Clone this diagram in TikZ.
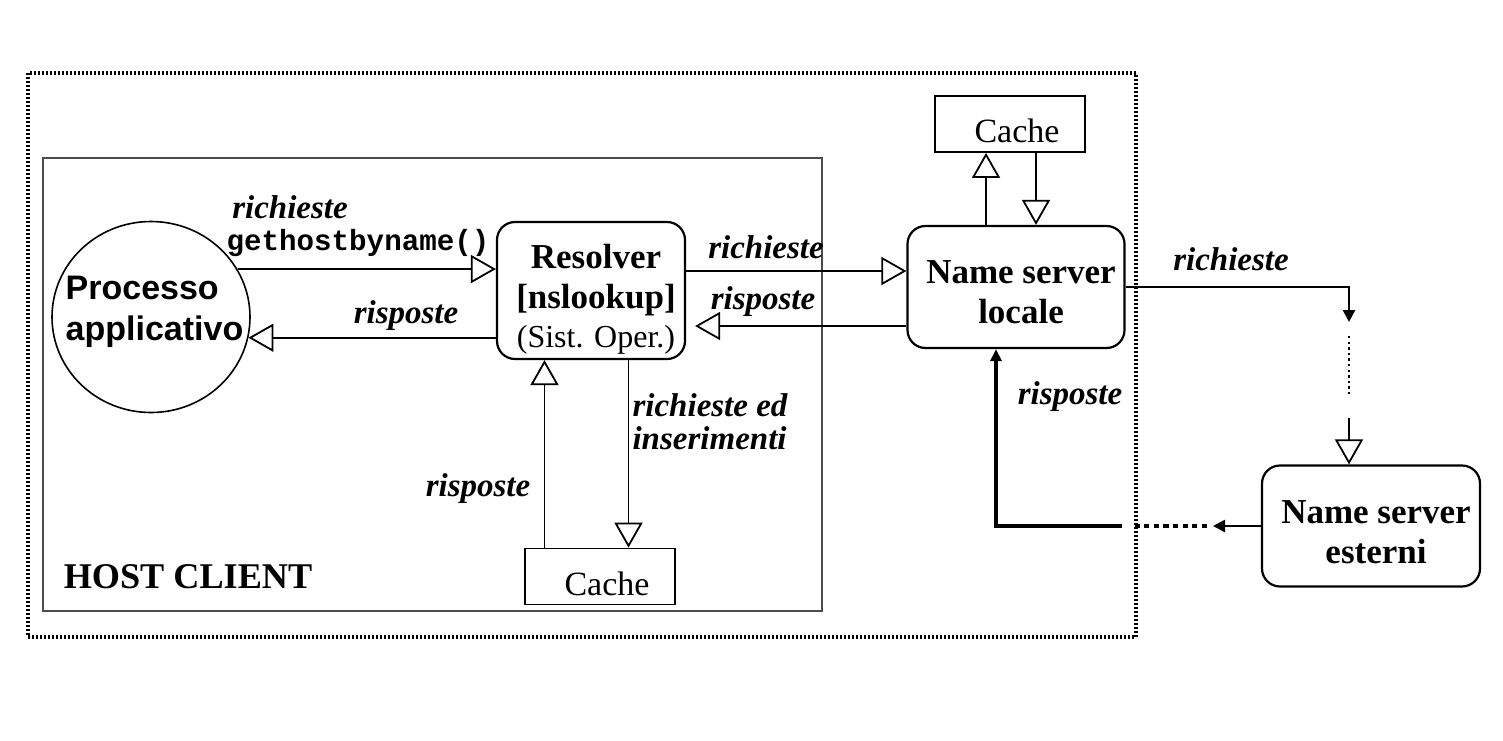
\documentclass[tikz,border=0pt]{standalone}
\usepackage{fontspec}
\setmainfont{Liberation Serif}
\setmonofont{Liberation Mono}
\newfontfamily\arialfont{Liberation Sans}
\usetikzlibrary{calc,positioning,arrows.meta,shapes.geometric}
\tikzset{
  nsbox/.style={rectangle, draw=black, line width=1.1pt, rounded corners=9pt, inner sep=0pt},
  boxtext/.style={align=center, inner sep=0pt, xshift=2.5pt, font=\fontsize{17.5}{20}\selectfont\bfseries},
  cachebox/.style={rectangle, draw=black, line width=0.9pt, minimum width=75pt, minimum height=28pt, inner sep=0pt},
  cachetext/.style={inner sep=0pt, xshift=3.5pt, yshift=-3.5pt, font=\fontsize{17}{20}\selectfont},
  procnode/.style={ellipse, draw=black, line width=0.8pt, minimum width=99pt, minimum height=95.5pt, inner sep=0pt},
  proctext/.style={align=left, font=\arialfont\fontsize{17}{20.5}\selectfont\bfseries},
  lbl/.style={align=left, inner sep=0pt, font=\fontsize{16.5}{16.5}\selectfont\bfseries\itshape},
  line/.style={draw, line width=0.9pt, -{Triangle[open,length=12.5pt,width=14pt]}},
  rqline/.style={draw, line width=1.3pt, -{Triangle[length=6pt,width=6pt]}},
  rsline/.style={draw, line width=1.8pt, -{Triangle[length=6pt,width=5.5pt]}},
  dotline/.style={draw, line width=1.2pt, dash pattern=on 1.2pt off 1.6pt},
  bigdotline/.style={draw, line width=1.8pt, dash pattern=on 2.6pt off 2.2pt},
  framebox/.style={draw, line width=1.8pt, dash pattern=on 1pt off 1pt},
  hostbox/.style={draw=black!70, line width=0.7pt},
}

\begin{document}
\begin{tikzpicture}[x=0.5pt,y=-0.5pt]
    \useasboundingbox (0,0) rectangle (1503,740);

    % boxes
    \draw[framebox] (28,73) rectangle (1136,637);
    \draw[hostbox] (43,158) rectangle (822,611);

    \node[procnode, label={[proctext,xshift=1.75pt,yshift=2.5pt]center:Processo\\applicativo}] (proc) at (151,317) {};
    \node[nsbox, minimum width=94pt, minimum height=68.5pt,
      label={[boxtext,yshift=-4.5pt,font=\fontsize{17.5}{19.75}\selectfont\bfseries]center:Resolver\\{[nslookup]}\\{\mdseries\fontsize{16}{20}\selectfont (Sist. Oper.)}}] (res) at (591,290.5) {};
    \node[nsbox, minimum width=108.5pt, minimum height=61pt,
      label={[boxtext,yshift=-2.75pt]center:Name server\\locale}] (nsl) at (1016,287) {};
    \node[nsbox, minimum width=109pt, minimum height=60.5pt,
      label={[boxtext,yshift=-3.25pt]center:Name server\\esterni}] (nse) at (1371,526) {};
    \node[cachebox, label={[cachetext]center:Cache}] (cachens) at (1010,124) {};
    \node[cachebox, label={[cachetext]center:Cache}] (cacheres) at (600,576.5) {};

    \node[font=\fontsize{18.1}{20}\selectfont\bfseries] (host) at (188,577) {HOST CLIENT};

    % labels
    \node[lbl] (rqproc) at (290,207) {richieste};
    \node[font=\ttfamily\bfseries\fontsize{14.6}{16}\selectfont, inner sep=0pt] (gethost) at (358,243) {gethostbyname()};
    \node[lbl] (rsproc) at (406,316) {risposte};
    \node[lbl] (rqres) at (766,247) {richieste};
    \node[lbl] (rsres) at (763,302) {risposte};
    \node[lbl] (rqext) at (1231,259) {richieste};
    \node[lbl] (rsext) at (1070,397) {risposte};
    \node[lbl] (insert) at (710,422) {richieste ed\\inserimenti};
    \node[lbl] (rscache) at (478,489) {risposte};

    % points of the external path
    \coordinate (rq1) at (1349,322);
    \coordinate (rq2) at (1349,336);
    \coordinate (rq3) at (1349,395);
    \coordinate (rq4) at (1349,418);
    \coordinate (rs1) at (1213,526);
    \coordinate (rs2) at (1207,526);
    \coordinate (rs3) at (1133,526);
    \coordinate (rs4) at (1122,526);

    \begin{scope} [every path/.style=line]
      \path (proc.29) -- (proc.29 -| res.west);
      \path (proc.-12 -| res.west) -- (proc.-12);

      \path ([yshift=9.75pt]res.east) -- ([yshift=9.75pt]res.east -| nsl.west);
      \path[shorten >=4.5pt] ([yshift=-17.75pt]res.east -| nsl.west) -- ([yshift=-17.75pt]res.east);

      \path ([xshift=-15pt]nsl.north) -- ([xshift=-15pt]nsl.north |- cachens.south);
      \path ([xshift=10pt]nsl.north |- cachens.south) -- ([xshift=10pt]nsl.north);

      \path ([xshift=-23.25pt]res.south |- cacheres.north) -- ([xshift=-23.25pt]res.south);
      \path ([xshift=18.75pt]res.south) -- ([xshift=18.75pt]res.south |- cacheres.north);

      \path (rq4) -- (rq4 |- nse.north);
    \end{scope}

    \path[rqline] (nsl.east) -| (rq1);
    \path[dotline] (rq2) -- (rq3);
    \path[rqline] (nse.west) -- (rs1);
    \path[bigdotline] (rs2) -- (rs3);
    \path[rsline] (rs4) -| ([xshift=-10pt]nsl.south);

\end{tikzpicture}
\end{document}
